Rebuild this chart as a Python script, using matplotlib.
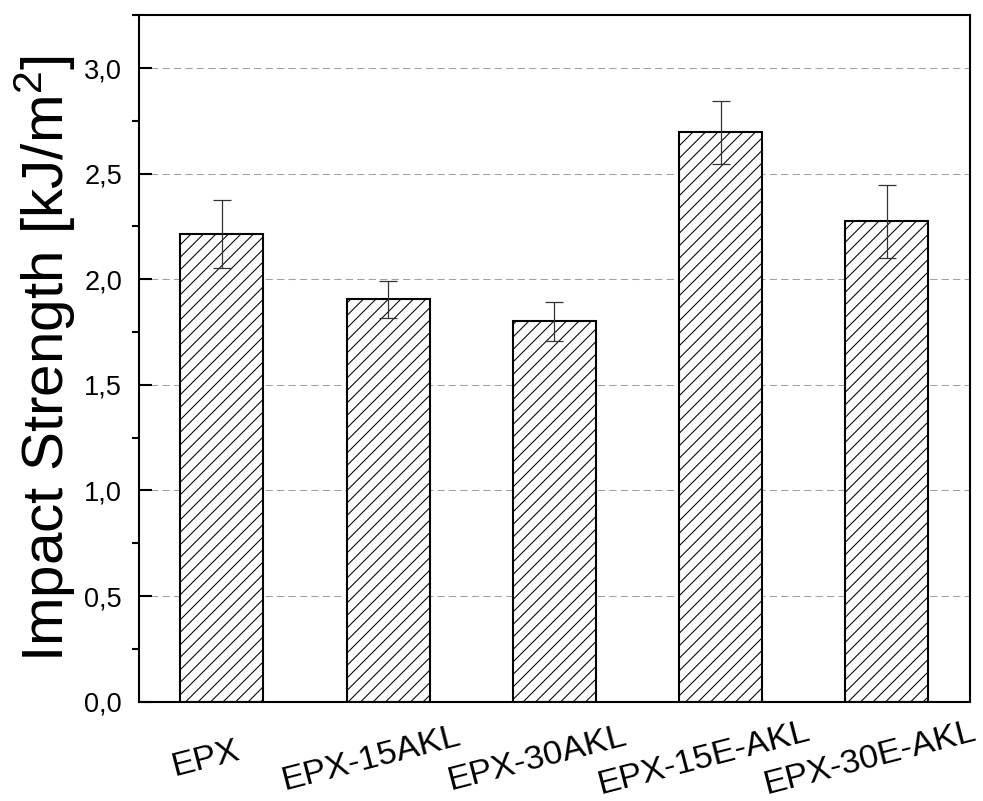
import matplotlib as mpl
mpl.use('Agg')
import matplotlib.pyplot as plt
from matplotlib.ticker import MultipleLocator, FuncFormatter
from matplotlib.transforms import ScaledTranslation

plt.rcParams['font.family'] = ['Liberation Sans', 'DejaVu Sans']
plt.rcParams['mathtext.fontset'] = 'custom'
plt.rcParams['mathtext.rm'] = 'Liberation Sans'
plt.rcParams['mathtext.default'] = 'regular'
plt.rcParams['hatch.linewidth'] = 0.5

samples = ['EPX', 'EPX-15AKL', 'EPX-30AKL', 'EPX-15E-AKL', 'EPX-30E-AKL']
impact = [2.215, 1.905, 1.800, 2.695, 2.275]
impact_err = [0.161, 0.087, 0.093, 0.148, 0.173]

fig, ax = plt.subplots(figsize=(6.56, 5.34), dpi=150)
fig.subplots_adjust(left=0.141, right=0.9858, bottom=0.124, top=0.981)

pos = list(range(len(samples)))
ax.bar(pos, impact, width=0.5, color='white', edgecolor='black',
       linewidth=1.0, hatch='////', zorder=2)
ax.errorbar(pos, impact, yerr=impact_err, fmt='none', ecolor='#333333',
            elinewidth=0.6, capsize=4.3, capthick=0.6, zorder=3)

ax.set_xlim(-0.5, 4.5)
ax.set_ylim(0, 3.25)
ax.yaxis.set_major_locator(MultipleLocator(0.5))
ax.yaxis.set_minor_locator(MultipleLocator(0.25))
# decimal comma on the value axis
ax.yaxis.set_major_formatter(FuncFormatter(lambda v, p: f'{v:.1f}'.replace('.', ',')))
ax.set_axisbelow(True)
ax.grid(axis='y', which='major', color='#a0a0a0', linestyle=(0, (7, 4)), linewidth=0.5)

for s in ax.spines.values():
    s.set_linewidth(1.0)

ax.tick_params(axis='y', which='major', direction='in', length=6.3, width=1.0,
               labelsize=13, pad=8)
ax.tick_params(axis='y', which='minor', direction='out', length=3.4, width=1.0)
ax.tick_params(axis='x', length=0, labelsize=16.5, pad=27.4)

ax.set_xticks(pos, samples)
shift = ScaledTranslation(-17 / 150, 0, fig.dpi_scale_trans)
for lab in ax.get_xticklabels():
    lab.set_rotation(14.5)
    lab.set_ha('center')
    lab.set_va('center')
    lab.set_rotation_mode('anchor')
    lab.set_transform(lab.get_transform() + shift)

ax.set_ylabel('Impact Strength [kJ/m$^2$]', fontsize=28)
ax.yaxis.set_label_coords(-0.073, 0.5)

fig.savefig('out.png', dpi=150)
